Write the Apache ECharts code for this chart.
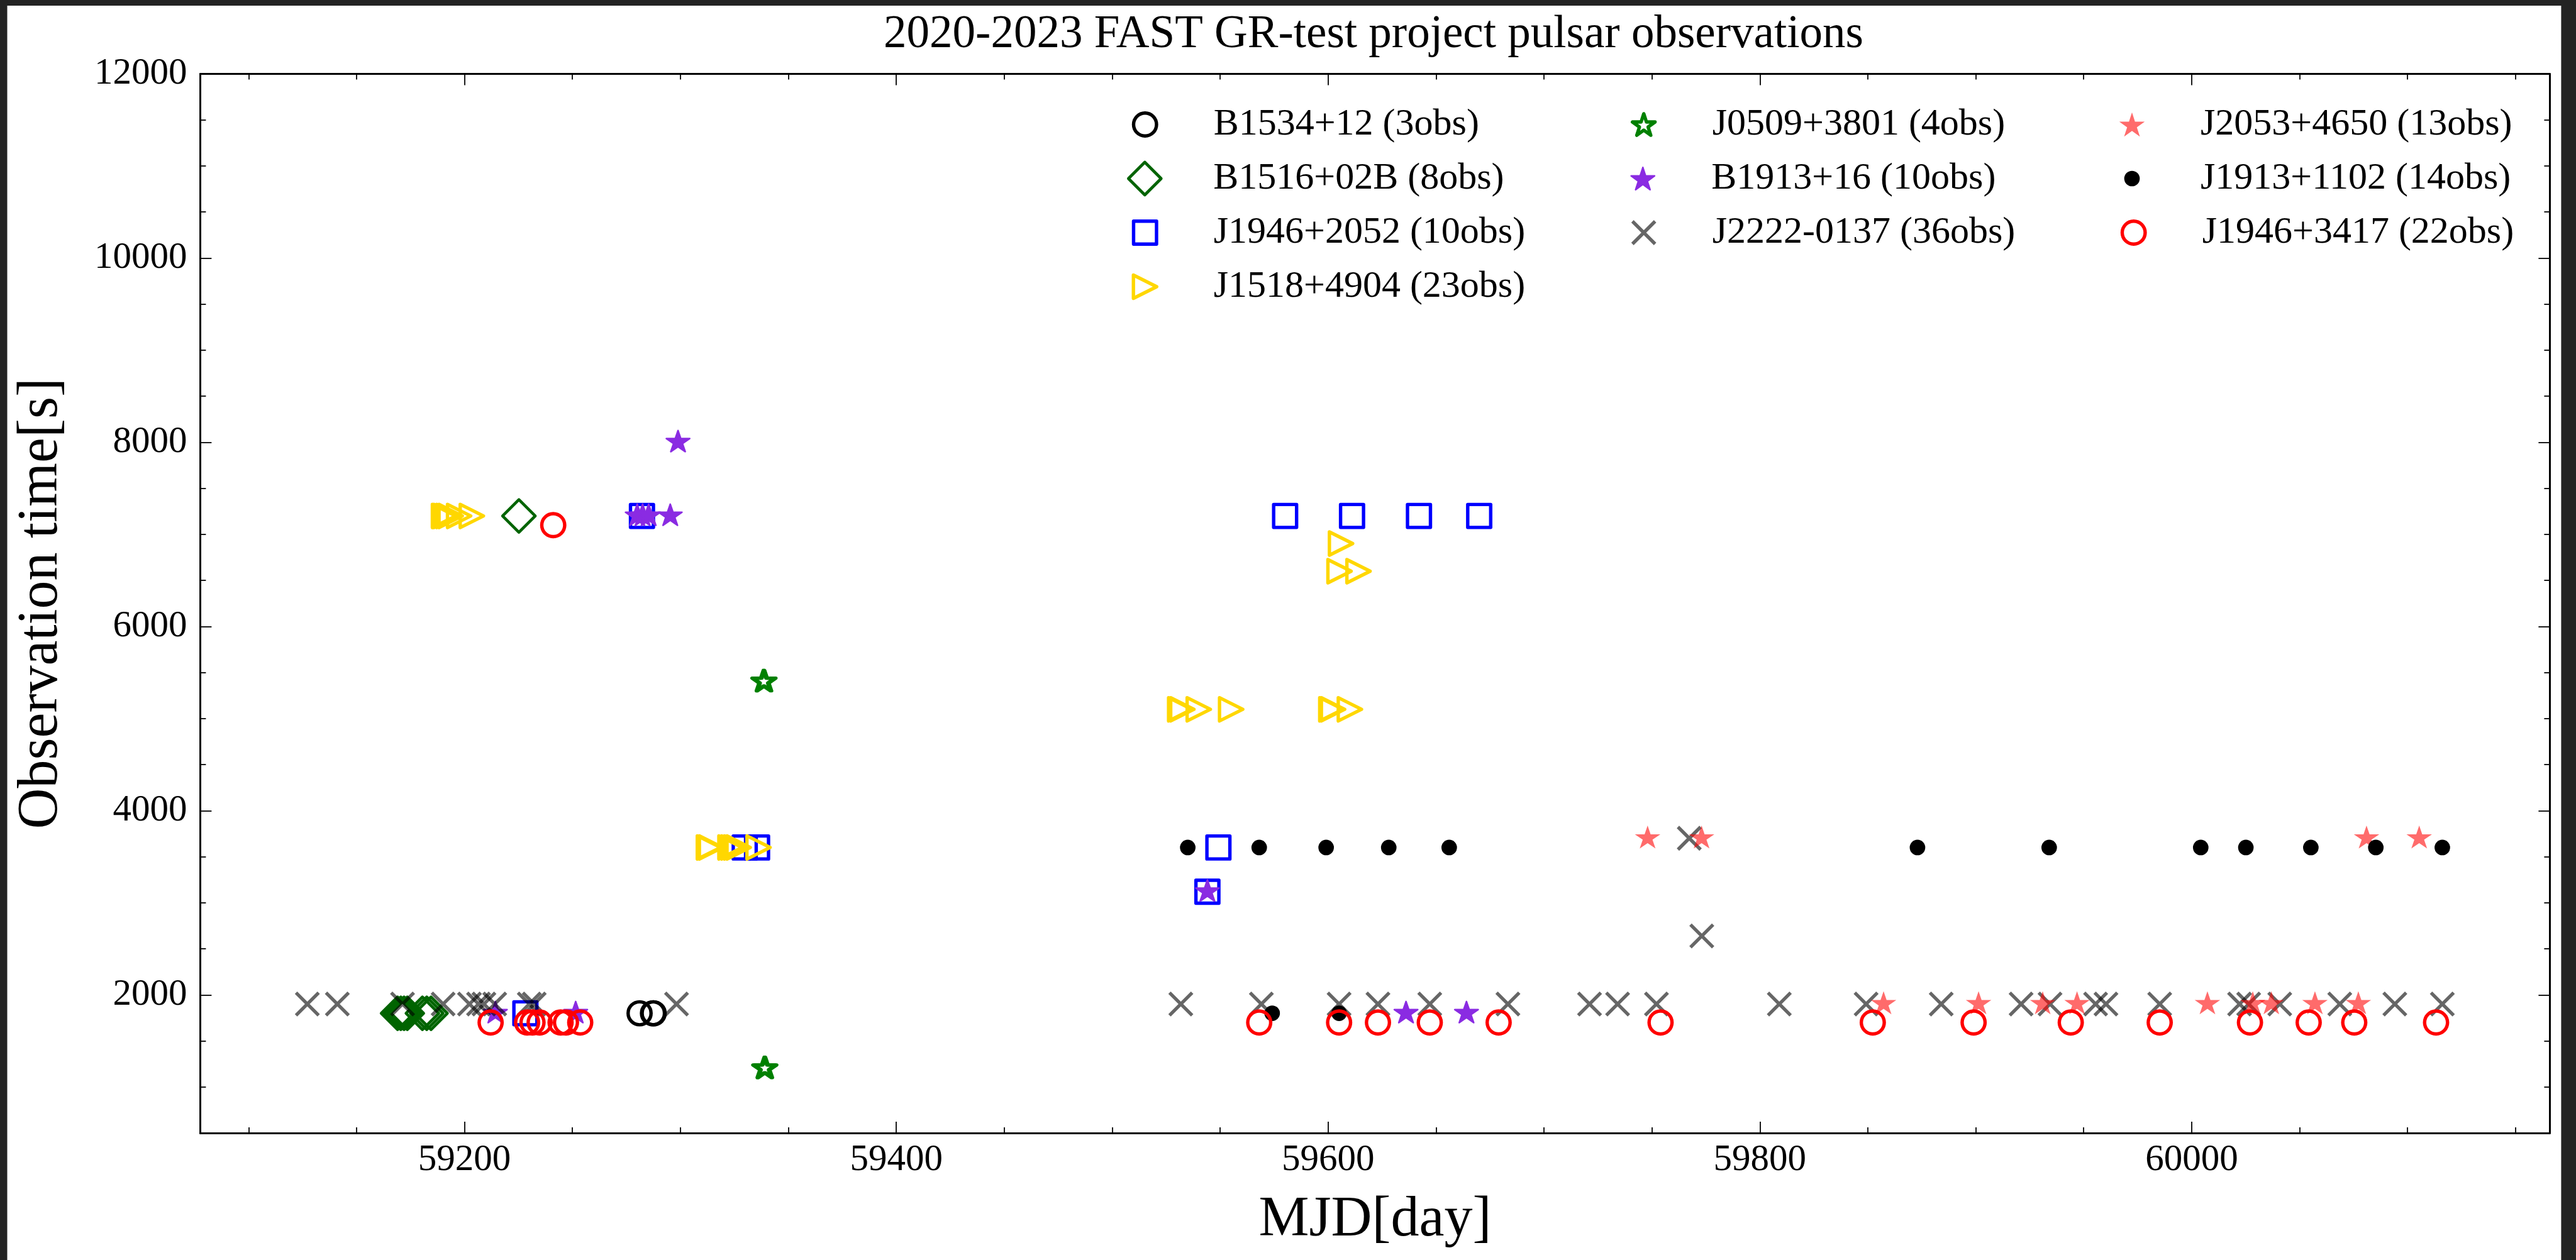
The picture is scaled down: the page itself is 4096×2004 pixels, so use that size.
<!DOCTYPE html>
<html>
<head>
<meta charset="utf-8">
<style>
  html, body { margin: 0; padding: 0; background: #fff; }
  #chart { width: 4096px; height: 2004px; }
</style>
<script src="https://cdn.jsdelivr.net/npm/echarts@6/dist/echarts.min.js"></script>
</head>
<body>
<div id="chart"></div>
<script>
// Observation epochs per pulsar: [MJD (day), observation time (s)]
const B1534_12 = [[59281.1, 1800], [59287.3, 1800], [59287.6, 1800]];
const B1516_02B = [[59169.0, 1800], [59170.5, 1800], [59172.0, 1800], [59173.5, 1800],
  [59180.5, 1800], [59182.5, 1800], [59184.5, 1800], [59225.2, 7200]];
const J1946_2052 = [[59228.2, 1800], [59282.2, 7200], [59329.8, 3600], [59335.5, 3600],
  [59544.1, 3120], [59549.2, 3600], [59580.1, 7200], [59611.1, 7200], [59642.1, 7200], [59670.0, 7200]];
const J1518_4904 = [[59190.5, 7200], [59191.2, 7200], [59192.5, 7200], [59193.6, 7200], [59197.5, 7200], [59203.4, 7200],
  [59313.2, 3600], [59314.2, 3600], [59323.2, 3600], [59324.5, 3600], [59325.8, 3600], [59327.0, 3600], [59336.2, 3600],
  [59531.5, 5100], [59532.5, 5100], [59540.1, 5100], [59555.1, 5100], [59601.5, 5100], [59602.3, 5100], [59610.1, 5100],
  [59605.3, 6600], [59614.1, 6600], [59606.0, 6900]];
const J0509_3801 = [[59338.4, 5400], [59339.0, 5400], [59338.8, 1200], [59339.4, 1200]];
const B1913_16 = [[59214.3, 1800], [59251.5, 1800], [59280.0, 7200], [59282.5, 7200], [59285.3, 7200],
  [59295.3, 7200], [59298.9, 8000], [59544.1, 3120], [59636.1, 1800], [59664.1, 1800]];
const J2222_0137 = [[59127.2, 1900], [59141.1, 1900], [59171.3, 1900], [59190.1, 1900], [59202.3, 1900],
  [59206.5, 1900], [59209.0, 1900], [59214.0, 1900], [59230.0, 1900], [59232.3, 1900], [59298.2, 1900],
  [59531.8, 1900], [59569.1, 1900], [59605.1, 1900], [59623.1, 1900], [59647.1, 1900], [59683.3, 1900],
  [59721.1, 1900], [59734.1, 1900], [59752.1, 1900], [59767.3, 3700], [59773.1, 2640], [59809.0, 1900],
  [59849.2, 1900], [59884.0, 1900], [59921.0, 1900], [59934.4, 1900], [59955.5, 1900], [59960.3, 1900],
  [59985.2, 1900], [60022.2, 1900], [60026.4, 1900], [60040.8, 1900], [60068.6, 1900], [60094.1, 1900],
  [60116.1, 1900]];
const J2053_4650 = [[59748.0, 3700], [59773.0, 3700], [60081.0, 3700], [60105.4, 3700],
  [59857.3, 1900], [59901.3, 1900], [59931.0, 1900], [59946.9, 1900], [60007.3, 1900], [60028.3, 1900],
  [60036.9, 1900], [60057.1, 1900], [60077.2, 1900]];
const J1913_1102 = [[59535.0, 3600], [59568.1, 3600], [59599.1, 3600], [59628.1, 3600], [59656.1, 3600],
  [59873.0, 3600], [59934.0, 3600], [60004.2, 3600], [60025.1, 3600], [60055.2, 3600], [60085.3, 3600],
  [60116.1, 3600], [59574.1, 1800], [59605.1, 1800]];
const J1946_3417 = [[59241.1, 7100], [59212.1, 1700], [59229.0, 1700], [59231.5, 1700], [59234.8, 1700],
  [59244.5, 1700], [59247.0, 1700], [59253.6, 1700], [59568.1, 1700], [59605.1, 1700], [59623.1, 1700],
  [59647.1, 1700], [59679.0, 1700], [59754.0, 1700], [59852.3, 1700], [59899.0, 1700], [59944.0, 1700],
  [59985.2, 1700], [60027.0, 1700], [60054.2, 1700], [60075.3, 1700], [60113.2, 1700]];

// Axis ranges
const X_RANGE = [59077.6, 60165.9];
const Y_RANGE = [500, 12000];

const TITLE = '2020-2023 FAST GR-test project pulsar observations';
const X_NAME = 'MJD[day]';
const Y_NAME = 'Observation time[s]';

const FONT = '"Liberation Serif", "Times New Roman", serif';

// Five-pointed star centred on its circumcircle (inner radius ratio 0.382)
function starPath() {
  const pts = [];
  for (let k = 0; k < 10; k++) {
    const a = -Math.PI / 2 + k * Math.PI / 5;
    const r = k % 2 ? 0.381966 : 1;
    pts.push((r * Math.cos(a)).toFixed(5) + ' ' + (r * Math.sin(a)).toFixed(5));
  }
  return 'path://M' + pts.join(' L') + ' Z';
}
const STAR = starPath();
const CROSS = 'path://M0 0 L1 1 M1 0 L0 1';
const TRIANGLE_RIGHT = 'path://M-1 -1 L1 0 L-1 1 Z';
const starSize = R => [1.9021 * R, 1.8090 * R];
const NONE = 'rgba(0,0,0,0)';

// Marker styles, in legend order
const STYLES = [
  { psr: 'B1534+12',   data: B1534_12,   symbol: 'circle',  size: 36.5, fill: NONE, stroke: '#000000', lw: 5.4 },
  { psr: 'B1516+02B',  data: B1516_02B,  symbol: 'diamond', size: 52,   fill: NONE, stroke: '#006400', lw: 4.6 },
  { psr: 'J1946+2052', data: J1946_2052, symbol: 'rect',    size: 36.5, fill: NONE, stroke: '#0000ff', lw: 5.4 },
  { psr: 'J1518+4904', data: J1518_4904, symbol: TRIANGLE_RIGHT, size: 37, fill: NONE, stroke: '#ffd700', lw: 5.4 },
  { psr: 'J0509+3801', data: J0509_3801, symbol: STAR, star: 18.9, fill: NONE, stroke: '#008000', lw: 5.4 },
  { psr: 'B1913+16',   data: B1913_16,   symbol: STAR, star: 19.6, fill: '#8a2be2', stroke: '#8a2be2', lw: 2.5 },
  { psr: 'J2222-0137', data: J2222_0137, symbol: CROSS, size: 36, fill: NONE, stroke: 'rgba(0,0,0,0.6)', lw: 5.4, cap: 'butt' },
  { psr: 'J2053+4650', data: J2053_4650, symbol: STAR, star: 21.3, fill: 'rgba(255,0,0,0.58)', stroke: NONE, lw: 0 },
  { psr: 'J1913+1102', data: J1913_1102, symbol: 'circle',  size: 24.7, fill: '#000000', stroke: NONE, lw: 0 },
  { psr: 'J1946+3417', data: J1946_3417, symbol: 'circle',  size: 36.5, fill: NONE, stroke: '#ff0000', lw: 5.4 }
];

// Legend grid: 3 columns filled top-to-bottom
const LEG_COL_X = [1818, 2611, 3390];
const LEG_ROW_Y = [198, 284, 370, 456];
const LEG_TEXT_OFFSET = 109;
const LEG_LINE = 60;

const series = [];
const legends = [];
STYLES.forEach((s, i) => {
  const name = s.psr + ' (' + s.data.length + 'obs)';
  const size = s.star ? starSize(s.star) : s.size;
  const itemStyle = {
    color: s.fill, borderColor: s.stroke, borderWidth: s.lw,
    borderJoin: s.cap ? 'miter' : 'round', borderCap: s.cap || 'round', opacity: 1
  };
  series.push({
    type: 'scatter', name: name, data: s.data,
    symbol: s.symbol, symbolSize: size,
    symbolKeepAspect: true,
    symbolOffset: s.star ? [0, '-5.3%'] : [0, 0],
    itemStyle: itemStyle,
    emphasis: { disabled: true },
    z: 2 + i * 0.01
  });
  const col = i < 4 ? 0 : (i < 7 ? 1 : 2);
  const row = i < 4 ? i : (i < 7 ? i - 4 : i - 7);
  const icon = Array.isArray(size) ? size[0] : size;
  legends.push({
    show: true, orient: 'vertical', padding: 0,
    left: LEG_COL_X[col] - icon / 2, top: LEG_ROW_Y[row] - LEG_LINE / 2,
    itemWidth: icon, itemHeight: icon, symbolKeepAspect: true,
    selectedMode: false,
    data: [{ name: name, icon: s.symbol, itemStyle: itemStyle }],
    itemStyle: itemStyle,
    textStyle: {
      fontFamily: FONT, fontSize: 60, color: '#000', lineHeight: LEG_LINE,
      padding: [0, 0, 0, LEG_TEXT_OFFSET - icon / 2 - 5]
    }
  });
});

const axisLine = { show: true, onZero: false, lineStyle: { color: '#000', width: 3 } };
const tick = { show: true, inside: true, length: 18, lineStyle: { color: '#000', width: 1.8 } };
const minor = { show: true, splitNumber: 4, length: 9, lineStyle: { color: '#000', width: 1.8 } };
const numLabel = v => String(v);

const option = {
  animation: false,
  backgroundColor: '#ffffff',
  title: {
    text: TITLE, left: 2184, top: 19, padding: 0, textAlign: 'center',
    textStyle: { fontFamily: FONT, fontSize: 73, fontWeight: 'normal', color: '#000' }
  },
  legend: legends,
  grid: {
    left: 318.4, right: 41.6, top: 117.5, bottom: 202,
    containLabel: false, outerBoundsMode: 'none'
  },
  xAxis: [
    {
      type: 'value', position: 'bottom', min: X_RANGE[0], max: X_RANGE[1],
      axisLine: axisLine, axisTick: tick, minorTick: minor, splitLine: { show: false },
      axisLabel: { color: '#000', fontFamily: FONT, fontSize: 59, margin: 14,
        formatter: numLabel, showMinLabel: false, showMaxLabel: false },
      name: X_NAME, nameLocation: 'middle', nameGap: 94,
      nameTextStyle: { fontFamily: FONT, fontSize: 90, color: '#000' }
    },
    {
      type: 'value', position: 'top', min: X_RANGE[0], max: X_RANGE[1],
      axisLine: axisLine, axisTick: tick, minorTick: minor, splitLine: { show: false },
      axisLabel: { show: false }
    }
  ],
  yAxis: [
    {
      type: 'value', position: 'left', min: Y_RANGE[0], max: Y_RANGE[1],
      axisLine: axisLine, axisTick: tick, minorTick: minor, splitLine: { show: false },
      axisLabel: { color: '#000', fontFamily: FONT, fontSize: 59, margin: 21,
        formatter: numLabel, showMinLabel: false, showMaxLabel: true },
      name: Y_NAME, nameLocation: 'middle', nameGap: 207, nameRotate: 90,
      nameTextStyle: { fontFamily: FONT, fontSize: 90, color: '#000' }
    },
    {
      type: 'value', position: 'right', min: Y_RANGE[0], max: Y_RANGE[1],
      axisLine: axisLine, axisTick: tick, minorTick: minor, splitLine: { show: false },
      axisLabel: { show: false }
    }
  ],
  graphic: [
    { type: 'rect', shape: { x: 0, y: 0, width: 4096, height: 9 }, style: { fill: '#232323' }, silent: true },
    { type: 'rect', shape: { x: 0, y: 0, width: 11.5, height: 2004 }, style: { fill: '#232323' }, silent: true },
    { type: 'rect', shape: { x: 4072.4, y: 0, width: 23.6, height: 2004 }, style: { fill: '#232323' }, silent: true }
  ],
  series: series
};

const chart = echarts.init(document.getElementById('chart'), null, { renderer: 'canvas' });
chart.setOption(option);
</script>
</body>
</html>
